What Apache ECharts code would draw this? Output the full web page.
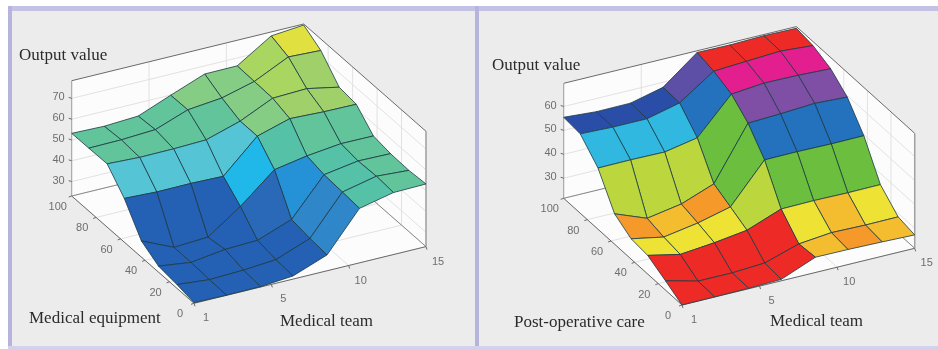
<!DOCTYPE html>
<html>
<head>
<meta charset="utf-8">
<title>Output value surfaces</title>
<style>
html, body { margin: 0; padding: 0; background: #fff; }
#main { width: 938px; height: 349px; }
</style>
<script src="https://cdn.jsdelivr.net/npm/echarts@6/dist/echarts.min.js"></script>
</head>
<body>
<div id="main"></div>
<script>
// mesh positions
var teams = [0, 2.1, 4.3, 6.4, 8.6, 10.7, 12.9, 15];
var scores = [0, 14, 29, 43, 57, 71, 86, 100];

// tick values and their labels
var teamTicks = [0, 5, 10, 15];
var teamTickLabels = ['1', '5', '10', '15'];
var scoreTicks = [0, 20, 40, 60, 80, 100];
var equipmentOutputTicks = [30, 40, 50, 60, 70];
var careOutputTicks = [30, 40, 50, 60];

// output value, one row per score, one column per team
var equipmentOutput = [
    [23.4, 23.2, 23.3, 24.6, 30.7, 49.3, 52.9, 53.2],
    [24.9, 23.4, 24.0, 25.2, 31.4, 49.9, 53.5, 52.5],
    [26.0, 24.0, 26.2, 26.8, 32.8, 50.5, 53.1, 52.8],
    [30.9, 24.0, 24.9, 35.8, 49.5, 52.3, 54.2, 54.1],
    [44.1, 43.4, 43.5, 43.1, 58.4, 63.0, 62.3, 62.1],
    [53.5, 52.8, 52.9, 53.4, 58.4, 65.6, 66.2, 63.1],
    [53.3, 53.5, 54.4, 60.1, 61.8, 65.9, 73.7, 73.0],
    [53.2, 52.8, 53.7, 59.9, 66.1, 66.2, 76.6, 78.0]
];
var careOutput = [
    [21.6, 21.7, 21.8, 22.2, 28.0, 27.9, 27.6, 27.2],
    [25.5, 22.0, 22.0, 22.8, 27.3, 28.7, 28.4, 28.5],
    [29.4, 26.5, 27.9, 29.8, 35.2, 35.4, 35.2, 35.3],
    [30.1, 27.5, 29.9, 33.3, 49.5, 49.6, 49.4, 49.5],
    [34.3, 29.1, 31.6, 36.7, 58.6, 59.2, 60.1, 59.4],
    [47.2, 47.3, 47.1, 49.7, 64.5, 65.8, 65.6, 65.0],
    [54.8, 54.3, 54.3, 57.6, 67.4, 68.2, 69.0, 68.0],
    [55.5, 54.5, 54.6, 57.9, 69.0, 68.8, 69.2, 69.0]
];
// colour band of each face on the right surface
var careBands = [
    [0, 0, 0, 0, 2, 1, 2],
    [0, 0, 0, 0, 3, 2, 3],
    [3, 3, 3, 4, 5, 5, 5],
    [1, 2, 1, 5, 6, 6, 6],
    [4, 4, 4, 5, 10, 10, 10],
    [7, 7, 7, 6, 11, 11, 11],
    [8, 8, 8, 9, 0, 0, 0]
];

var equipmentLimits = [0, 26, 30, 32, 35, 40, 48, 51, 56, 62, 65, 70, 90];
var equipmentColors = ['#2460b4', '#2a68b8', '#2f86c8', '#2592d8', '#1fb8e8', '#55c5d5', '#55c2a8', '#62c49a', '#85cc85', '#9fd06a', '#a8d660', '#e0e040'];
var careColors = ['#ee2a26', '#f59a2a', '#f4bd30', '#eee235', '#bcd63e', '#6cbe3e', '#2471bd', '#31b8e0', '#2a4da8', '#5c4fa5', '#7f4ea5', '#e31f8f'];

var serifFont = '"Liberation Serif", serif';

function project(box, x, y, z) {
    var fx = x / 15, fy = y / 100, fz = (z - box.zMin) / (box.zMax - box.zMin);
    return [
        box.ox + fx * box.xDx + fy * box.yDx,
        box.oy + fx * box.xDy + fy * box.yDy - fz * box.zH
    ];
}

function frameSeries(box, idx) {
    return {
        type: 'custom',
        xAxisIndex: idx,
        yAxisIndex: idx,
        clip: false,
        silent: true,
        data: [[0, 0]],
        renderItem: function (params, api) {
            var kids = [];
            function pt(x, y, z) {
                return api.coord(project(box, x, y, z));
            }
            function wall(a, b, c, d) {
                kids.push({type: 'polygon', shape: {points: [a, b, c, d]}, style: {fill: '#fcfcfc'}});
            }
            function line(a, b, color, w) {
                kids.push({type: 'line', shape: {x1: a[0], y1: a[1], x2: b[0], y2: b[1]}, style: {stroke: color, lineWidth: w}});
            }
            function label(p, text, align, font, color) {
                kids.push({type: 'text', x: p[0], y: p[1], style: {text: text, align: align, verticalAlign: 'middle', font: font, fill: color}});
            }
            var lo = box.zMin, hi = box.zMax;
            wall(pt(0, 100, lo), pt(15, 100, lo), pt(15, 100, hi), pt(0, 100, hi));
            wall(pt(15, 0, lo), pt(15, 100, lo), pt(15, 100, hi), pt(15, 0, hi));
            wall(pt(0, 0, lo), pt(15, 0, lo), pt(15, 100, lo), pt(0, 100, lo));

            var gridColor = '#e2e2e2';
            box.zTicks.forEach(function (z) {
                line(pt(0, 100, z), pt(15, 100, z), gridColor, 1);
                line(pt(15, 100, z), pt(15, 0, z), gridColor, 1);
            });
            teamTicks.forEach(function (x) {
                line(pt(x, 0, lo), pt(x, 100, lo), gridColor, 1);
                line(pt(x, 100, lo), pt(x, 100, hi), gridColor, 1);
            });
            scoreTicks.forEach(function (y) {
                line(pt(0, y, lo), pt(15, y, lo), gridColor, 1);
                line(pt(15, y, lo), pt(15, y, hi), gridColor, 1);
            });

            var edge = '#6a6a6a';
            line(pt(0, 100, lo), pt(15, 100, lo), '#8a8a8a', 1);
            line(pt(15, 0, lo), pt(15, 100, lo), '#8a8a8a', 1);
            line(pt(0, 100, hi), pt(15, 100, hi), edge, 1);
            line(pt(15, 100, hi), pt(15, 0, hi), edge, 1);
            line(pt(0, 100, lo), pt(0, 100, hi), '#a0a0a0', 1);
            line(pt(15, 0, lo), pt(15, 0, hi), '#a0a0a0', 1.5);
            line(pt(0, 0, lo), pt(0, 100, lo), edge, 1);
            line(pt(0, 0, lo), pt(15, 0, lo), edge, 1);

            var tickFont = '11px "Liberation Sans", sans-serif';
            var tickColor = '#6e6e6e';
            teamTicks.forEach(function (x, n) {
                var p = pt(x, 0, lo);
                line(p, [p[0] + 1, p[1] + 3], edge, 1);
                label([p[0] + 12, p[1] + 15], teamTickLabels[n], 'center', tickFont, tickColor);
            });
            scoreTicks.forEach(function (y) {
                var p = pt(0, y, lo);
                line(p, [p[0] - 3, p[1] + 1], edge, 1);
                label([p[0] - 14, p[1] + 11], String(y), 'center', tickFont, tickColor);
            });
            box.zTicks.forEach(function (z) {
                var p = pt(0, 100, z);
                line(p, [p[0] - 3, p[1] - 1], edge, 1);
                label([p[0] - 7, p[1] - 1], String(z), 'right', tickFont, tickColor);
            });

            var nameFont = box.nameSize + 'px ' + serifFont;
            box.names.forEach(function (n) {
                label(api.coord([n.x, n.y]), n.text, 'left', nameFont, '#2b2b2b');
            });
            return {type: 'group', children: kids};
        }
    };
}

function surfaceSeries(box, idx, output, levelOf) {
    // far faces first so nearer ones paint over them
    var faces = [];
    for (var j = output.length - 2; j >= 0; j--) {
        for (var i = output[j].length - 2; i >= 0; i--) {
            faces.push([i, j, levelOf(i, j)]);
        }
    }
    return {
        type: 'custom',
        xAxisIndex: idx,
        yAxisIndex: idx,
        clip: false,
        silent: true,
        encode: {x: 0, y: 1},
        data: faces,
        renderItem: function (params, api) {
            var i = api.value(0), j = api.value(1);
            var pts = [[i, j], [i + 1, j], [i + 1, j + 1], [i, j + 1]].map(function (c) {
                return api.coord(project(box, teams[c[0]], scores[c[1]], output[c[1]][c[0]]));
            });
            return {
                type: 'polygon',
                shape: {points: pts},
                style: {fill: api.visual('color'), stroke: '#1d3a44', lineWidth: 0.8, lineJoin: 'round'}
            };
        }
    };
}

var equipmentBox = {
    zMin: 23.1, zMax: 78.5, zTicks: equipmentOutputTicks,
    ox: 194, oy: 303.3, xDx: 232, xDy: -56.7, yDx: -122.3, yDy: -107.3, zH: 115.3,
    nameSize: 17,
    names: [
        {text: 'Output value', x: 19, y: 56},
        {text: 'Medical equipment', x: 29, y: 319},
        {text: 'Medical team', x: 280, y: 322}
    ]
};
var careBox = {
    zMin: 21.6, zMax: 69.7, zTicks: careOutputTicks,
    ox: 214, oy: 305, xDx: 232.7, xDy: -56.7, yDx: -118.3, yDy: -106.7, zH: 115,
    nameSize: 17,
    names: [
        {text: 'Output value', x: 24, y: 66},
        {text: 'Post-operative care', x: 46, y: 323},
        {text: 'Medical team', x: 302, y: 322}
    ]
};

function quadMin(i, j) {
    return Math.min(equipmentOutput[j][i], equipmentOutput[j][i + 1], equipmentOutput[j + 1][i], equipmentOutput[j + 1][i + 1]);
}

var equipmentPieces = equipmentColors.map(function (c, n) {
    return {min: equipmentLimits[n], max: equipmentLimits[n + 1], color: c};
});
var carePieces = careColors.map(function (c, n) {
    return {value: n, color: c};
});

function planeAxis(gridIndex, max, inverse) {
    return {type: 'value', gridIndex: gridIndex, min: 0, max: max, inverse: inverse, show: false};
}

var myChart = echarts.init(document.getElementById('main'), null, {renderer: 'canvas'});
var lavender = '#b6b3dd';
var option = {
    animation: false,
    backgroundColor: '#fff',
    grid: [
        {left: 0, top: 0, width: 469, height: 349},
        {left: 468, top: 0, width: 470, height: 349}
    ],
    xAxis: [planeAxis(0, 469, false), planeAxis(1, 470, false)],
    yAxis: [planeAxis(0, 349, true), planeAxis(1, 349, true)],
    graphic: [
        {type: 'rect', z: -10, shape: {x: 8, y: 6, width: 930, height: 343}, style: {fill: '#ececec'}},
        {type: 'rect', z: -9, shape: {x: 8, y: 6, width: 930, height: 5}, style: {fill: '#c4c2e4'}},
        {type: 'rect', z: -9, shape: {x: 8, y: 6, width: 4, height: 343}, style: {fill: lavender}},
        {type: 'rect', z: -9, shape: {x: 475, y: 6, width: 4, height: 343}, style: {fill: lavender}},
        {type: 'rect', z: -9, shape: {x: 8, y: 346, width: 930, height: 3}, style: {fill: '#d3d1ec'}}
    ],
    visualMap: [
        {type: 'piecewise', show: false, seriesIndex: 1, dimension: 2, pieces: equipmentPieces},
        {type: 'piecewise', show: false, seriesIndex: 3, dimension: 2, pieces: carePieces}
    ],
    series: [
        frameSeries(equipmentBox, 0),
        surfaceSeries(equipmentBox, 0, equipmentOutput, quadMin),
        frameSeries(careBox, 1),
        surfaceSeries(careBox, 1, careOutput, function (i, j) { return careBands[j][i]; })
    ]
};
myChart.setOption(option);
window.onresize = function () {
    myChart.resize();
};
</script>
</body>
</html>
